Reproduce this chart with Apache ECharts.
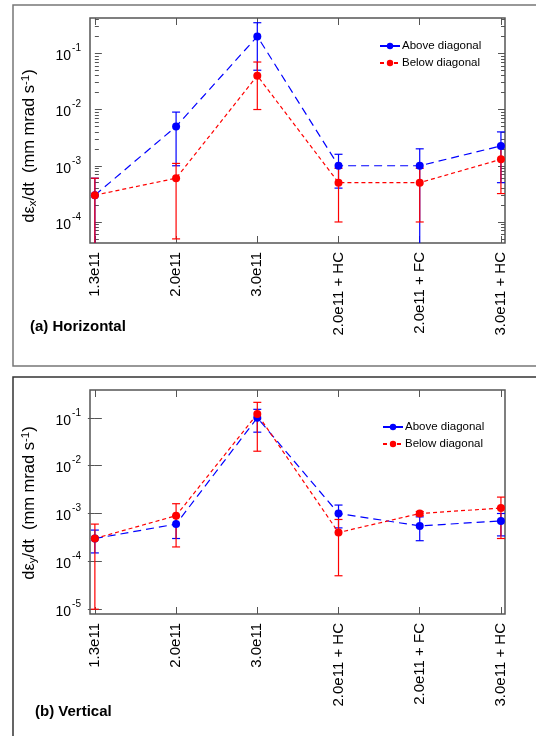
<!DOCTYPE html>
<html>
<head>
<meta charset="utf-8">
<script src="https://cdn.jsdelivr.net/npm/echarts@6/dist/echarts.min.js"></script>
<style>
  html, body { margin: 0; padding: 0; background: #fff; }
  #chart { width: 536px; height: 736px; }
</style>
</head>
<body>
<div id="chart"></div>
<script>
// categories (beam intensity / collision scheme)
const categories = ['1.3e11', '2.0e11', '3.0e11', '2.0e11 + HC', '2.0e11 + FC', '3.0e11 + HC']

// (a) horizontal emittance growth, mm mrad / s
const hAbove = [3e-4, 5e-3, 0.2, 1e-3, 1e-3, 2.25e-3]
const hAboveLo = [3e-5, 1e-3, 0.05, 4e-4, 1e-5, 5e-4]
const hAboveHi = [6e-4, 9e-3, 0.35, 1.6e-3, 2e-3, 4e-3]
const hBelow = [3e-4, 6e-4, 0.04, 5e-4, 5e-4, 1.3e-3]
const hBelowLo = [3e-5, 5e-5, 0.01, 1e-4, 1e-4, 3.2e-4]
const hBelowHi = [6e-4, 1.1e-3, 0.07, 9e-4, 9e-4, 2.3e-3]

// (b) vertical emittance growth, mm mrad / s
const vAbove = [3e-4, 6e-4, 0.1, 1e-3, 5.5e-4, 7e-4]
const vAboveLo = [1.5e-4, 3e-4, 0.05, 5e-4, 2.7e-4, 3.4e-4]
const vAboveHi = [4.5e-4, 9e-4, 0.15, 1.5e-3, 8.5e-4, 1e-3]
const vBelow = [3e-4, 9e-4, 0.12, 4e-4, 1e-3, 1.3e-3]
const vBelowLo = [1e-5, 2e-4, 0.02, 5e-5, 9e-4, 3e-4]
const vBelowHi = [6e-4, 1.6e-3, 0.21, 7.5e-4, 1.1e-3, 2.2e-3]

// decade exponents used as tick labels
const hDecades = [-4, -3, -2, -1]
const vDecades = [-5, -4, -3, -2, -1]

const FONT = '"Liberation Sans", Arial, sans-serif'
const BLUE = '#0000ff'
const RED = '#ff0000'
const H_RANGE = [-4.374, -0.372] // log10 axis range, top panel
const V_RANGE = [-5.1, -0.42] // log10 axis range, bottom panel
const catIdx = categories.map((c, i) => i)

const lg = v => Math.log10(v)

// minor ticks at 2..9 x 10^n (log space)
const hMinor = []
for (let n = -5; n <= 0; n++) {
  for (let k = 2; k <= 9; k++) {
    const t = n + Math.log10(k)
    if (t > H_RANGE[0] && t < H_RANGE[1]) hMinor.push(t)
  }
}

const chart = echarts.init(document.getElementById('chart'))

function xAxes(gridIndex) {
  const base = {
    type: 'value',
    gridIndex,
    min: -0.06,
    max: 5.05,
    axisLine: { show: false },
    splitLine: { show: false },
    axisTick: { inside: true, length: 7, customValues: catIdx, lineStyle: { color: '#555' } }
  }
  return [
    Object.assign({}, base, {
      position: 'bottom',
      axisLabel: {
        customValues: catIdx,
        rotate: 90,
        margin: 9,
        fontSize: 15,
        fontFamily: FONT,
        color: '#000',
        formatter: v => categories[Math.round(v)]
      }
    }),
    Object.assign({}, base, { position: 'top', axisLabel: { show: false } })
  ]
}

function yAxis(gridIndex, range, position, ticks, len, labels) {
  return {
    type: 'value',
    gridIndex,
    position,
    min: range[0],
    max: range[1],
    axisLine: { show: false },
    splitLine: { show: false },
    axisTick: { inside: true, length: len, customValues: ticks, lineStyle: { color: '#555' } },
    axisLabel: labels ? {
      customValues: ticks,
      margin: 9,
      fontFamily: FONT,
      color: '#000',
      formatter: v => '{b|10}{s|' + Math.round(v) + '}',
      rich: {
        b: { fontSize: 14, fontFamily: FONT, color: '#000', padding: [6, 0, 0, 0] },
        s: { fontSize: 10, fontFamily: FONT, color: '#000', verticalAlign: 'top', padding: [0, 0, 0, 1] }
      }
    } : { show: false }
  }
}

function errorRender(range) {
  return function (params, api) {
    const x = api.value(0)
    const lo = api.value(1)
    const hi = api.value(2)
    const p1 = api.coord([x, Math.max(lo, range[0])])
    const p2 = api.coord([x, Math.min(hi, range[1])])
    const style = { stroke: api.visual('color'), lineWidth: 1.2 }
    const kids = [{ type: 'line', shape: { x1: p1[0], y1: p1[1], x2: p2[0], y2: p2[1] }, style }]
    const w = 4
    if (lo >= range[0]) kids.push({ type: 'line', shape: { x1: p1[0] - w, y1: p1[1], x2: p1[0] + w, y2: p1[1] }, style })
    if (hi <= range[1]) kids.push({ type: 'line', shape: { x1: p2[0] - w, y1: p2[1], x2: p2[0] + w, y2: p2[1] }, style })
    return { type: 'group', children: kids }
  }
}

function errSeries(name, color, lo, hi, xi, yi, range) {
  return {
    type: 'custom',
    name: name + ' err',
    xAxisIndex: xi,
    yAxisIndex: yi,
    itemStyle: { color },
    encode: { x: 0, y: [1, 2] },
    renderItem: errorRender(range),
    data: catIdx.map(i => [i, lg(lo[i]), lg(hi[i])]),
    silent: true,
    z: 2
  }
}

function lineSeries(name, color, vals, dash, xi, yi) {
  return {
    type: 'line',
    name,
    xAxisIndex: xi,
    yAxisIndex: yi,
    data: catIdx.map(i => [i, lg(vals[i])]),
    symbol: 'circle',
    symbolSize: 8,
    itemStyle: { color },
    lineStyle: { color, width: 1.2, type: dash },
    z: 3
  }
}

const yNameRich = {
  a: { fontSize: 16.5, fontFamily: FONT, color: '#000' },
  sub: { fontSize: 11.5, fontFamily: FONT, color: '#000', verticalAlign: 'bottom', padding: [7, 0, 0, 0] },
  sup: { fontSize: 11.5, fontFamily: FONT, color: '#000', verticalAlign: 'top', padding: [0, 0, 7, 0] }
}

function yName(sub, x, y) {
  return {
    type: 'text',
    x, y,
    rotation: Math.PI / 2,
    style: {
      text: '{a|dε}{sub|' + sub + '}{a|/dt  (mm mrad s}{sup|-1}{a|)}',
      rich: yNameRich,
      align: 'center',
      verticalAlign: 'middle'
    }
  }
}

const legendCommon = {
  orient: 'vertical',
  itemWidth: 20,
  itemHeight: 8,
  itemGap: 5,
  data: ['Above diagonal', 'Below diagonal'],
  textStyle: { fontSize: 11.5, fontFamily: FONT, color: '#000', padding: [0, 0, 0, -3] },
  selectedMode: false
}

chart.setOption({
  animation: false,
  grid: [
    { left: 90, top: 18, width: 415, height: 225, show: true, borderColor: '#555', borderWidth: 1.5, backgroundColor: 'transparent' },
    { left: 90, top: 390, width: 415, height: 224, show: true, borderColor: '#555', borderWidth: 1.5, backgroundColor: 'transparent' }
  ],
  xAxis: xAxes(0).concat(xAxes(1)),
  yAxis: [
    yAxis(0, H_RANGE, 'left', hDecades, 7, true),
    yAxis(0, H_RANGE, 'left', hMinor, 4, false),
    yAxis(0, H_RANGE, 'right', hDecades, 7, false),
    yAxis(0, H_RANGE, 'right', hMinor, 4, false),
    yAxis(1, V_RANGE, 'left', vDecades, 7, true),
    yAxis(1, V_RANGE, 'right', vDecades, 7, false)
  ],
  legend: [
    Object.assign({ left: 374, top: 35 }, legendCommon),
    Object.assign({ left: 377, top: 416 }, legendCommon)
  ],
  graphic: [
    { type: 'rect', shape: { x: 13, y: 5, width: 540, height: 361 }, style: { fill: 'none', stroke: '#777', lineWidth: 1.5 } },
    { type: 'rect', shape: { x: 13, y: 377, width: 540, height: 400 }, style: { fill: 'none', stroke: '#333', lineWidth: 1.5 } },
    yName('x', 29, 146),
    yName('y', 29, 503),
    { type: 'text', x: 30, y: 327, style: { text: '(a) Horizontal', fontSize: 15, fontWeight: 'bold', fontFamily: FONT, fill: '#000', verticalAlign: 'middle' } },
    { type: 'text', x: 35, y: 712, style: { text: '(b) Vertical', fontSize: 15, fontWeight: 'bold', fontFamily: FONT, fill: '#000', verticalAlign: 'middle' } }
  ],
  series: [
    errSeries('Above diagonal', BLUE, hAboveLo, hAboveHi, 0, 0, H_RANGE),
    errSeries('Below diagonal', RED, hBelowLo, hBelowHi, 0, 0, H_RANGE),
    lineSeries('Above diagonal', BLUE, hAbove, [8, 5], 0, 0),
    lineSeries('Below diagonal', RED, hBelow, [4, 3], 0, 0),
    errSeries('Above diagonal', BLUE, vAboveLo, vAboveHi, 2, 4, V_RANGE),
    errSeries('Below diagonal', RED, vBelowLo, vBelowHi, 2, 4, V_RANGE),
    lineSeries('Above diagonal', BLUE, vAbove, [8, 5], 2, 4),
    lineSeries('Below diagonal', RED, vBelow, [4, 3], 2, 4)
  ]
})
</script>
</body>
</html>
